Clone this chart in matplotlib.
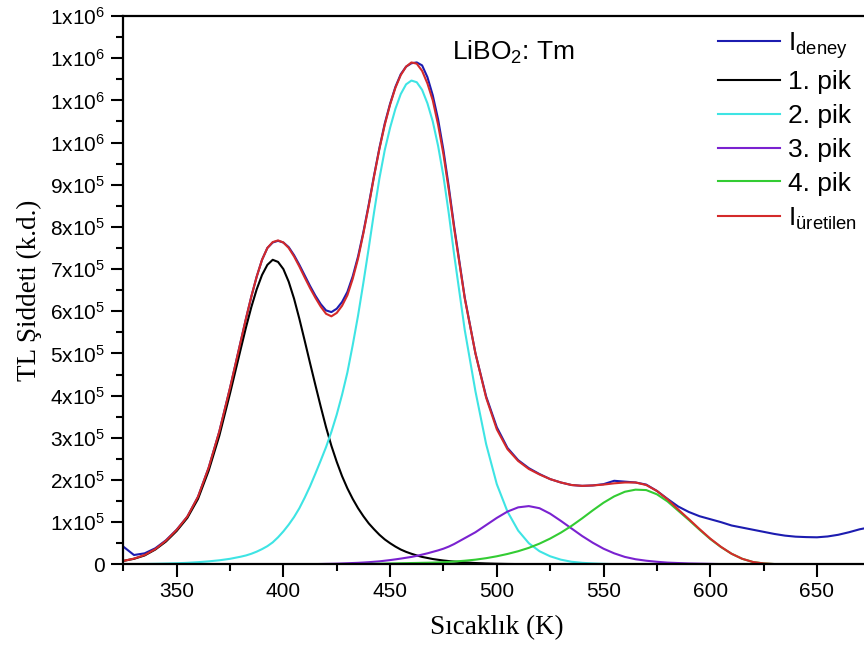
import numpy as np
import matplotlib.pyplot as plt
from matplotlib.ticker import MultipleLocator, FuncFormatter

plt.rcParams['font.family'] = ['Liberation Sans', 'DejaVu Sans']
plt.rcParams['mathtext.fontset'] = 'custom'
plt.rcParams['mathtext.rm'] = 'Liberation Sans'

# temperature (K); finer steps around the two main peaks
sicaklik = np.array([325, 330, 335, 340, 345, 350, 355, 360, 365, 370, 375,
                     380, 382.5, 385, 387.5, 390, 392.5, 395, 397.5, 400, 402.5,
                     405, 407.5, 410, 412.5, 415, 417.5, 420, 422.5, 425, 427.5,
                     430, 432.5, 435, 437.5, 440, 442.5, 445, 447.5, 450, 452.5,
                     455, 457.5, 460, 462.5, 465, 467.5, 470, 472.5, 475, 477.5, 480,
                     485, 490, 495, 500, 505, 510, 515, 520, 525, 530,
                     535, 540, 545, 550, 555, 560, 565, 570, 575, 580,
                     585, 590, 595, 600, 605, 610, 615, 620, 625, 630,
                     635, 640, 645, 650, 655, 660, 665, 670, 675])

i_deney = np.array([42000, 22000, 26000, 38000, 57000, 82000, 113000, 160000, 229000, 315000, 418000,
                    528000, 583000, 635000, 682000, 722000, 750000, 763000, 767000, 763000, 752000,
                    733000, 710000, 685000, 660000, 637000, 617000, 602000, 598000, 606000, 622000,
                    646000, 683000, 730000, 788000, 853000, 922000, 987000, 1045000, 1092000, 1132000,
                    1162000, 1180000, 1188000, 1190000, 1183000, 1155000, 1112000, 1055000, 982000, 895000, 802000,
                    632000, 500000, 398000, 325000, 276000, 247000, 228000, 214000, 202000, 194000,
                    188000, 186000, 187000, 190000, 198000, 196000, 194000, 189000, 174000, 155000,
                    137000, 124000, 114000, 107000, 100000, 92000, 87000, 82000, 77000, 72000,
                    68000, 65500, 64500, 64000, 66000, 70000, 76000, 83000, 88000])

pik_1 = np.array([8000, 13000, 21000, 35000, 54000, 79000, 110000, 155000, 222000, 305000, 405000,
                  510000, 562000, 610000, 652000, 686000, 710000, 722000, 717000, 700000, 670000,
                  630000, 582000, 530000, 477000, 425000, 374000, 325000, 281000, 243000, 209000,
                  180000, 155000, 133000, 114000, 97000, 83000, 70000, 59000, 50000, 42000,
                  35000, 29500, 25000, 21000, 17500, 15000, 12500, 10700, 9000, 7700, 6500,
                  4500, 3000, 2000, 1300, 800, 500, 300] + [0] * 32)

pik_2 = np.array([0, 500, 800, 1200, 1800, 2500, 3500, 5000, 7000, 9500, 13000,
                  18000, 21000, 25000, 30000, 36000, 43000, 52000, 64000, 78000, 94000,
                  112000, 133000, 158000, 185000, 215000, 246000, 278000, 314000, 355000, 402000,
                  455000, 520000, 590000, 668000, 750000, 835000, 915000, 982000, 1035000, 1080000,
                  1115000, 1138000, 1147000, 1143000, 1125000, 1093000, 1050000, 992000, 920000, 832000, 735000,
                  555000, 410000, 285000, 190000, 125000, 80000, 50000, 31000, 19000, 11000,
                  6000, 3500, 2000, 1000, 500] + [0] * 24)

pik_3 = np.array([0] * 25 +
                 [500, 700, 1000, 1200, 1500, 2000,
                  2500, 3000, 3500, 4200, 5000, 6000, 7000, 8500, 10000, 11700,
                  13500, 15500, 17500, 20000, 23000, 26000, 29500, 33000, 37000, 42000, 48000,
                  62000, 76000, 93000, 110000, 125000, 135000, 138000, 133000, 120000, 103000,
                  85000, 67000, 51000, 37000, 26000, 17500, 12000, 8500, 6000, 4000,
                  3000, 2000, 1500, 1000, 500] + [0] * 14)

pik_4 = np.array([0] * 33 +
                 [500, 700, 1000, 1200, 1500, 1700, 2000, 2200,
                  2500, 2700, 3000, 3200, 3500, 3700, 4000, 4500, 5000, 5700, 6500,
                  8500, 11000, 14500, 19000, 24500, 31000, 39000, 49000, 61000, 75000,
                  91000, 109000, 128000, 146000, 161000, 172000, 177000, 176000, 166000, 149000,
                  127000, 105000, 82000, 60000, 41000, 25000, 13000, 5500, 2000, 600] + [0] * 9)

i_uretilen = np.array([8000, 13500, 22000, 36000, 56000, 81500, 113000, 160000, 229000, 315000, 418000,
                       528000, 583000, 635000, 682000, 722000, 750000, 764000, 768000, 763000, 750000,
                       730000, 706000, 680000, 655000, 632000, 611000, 594000, 588000, 596000, 613000,
                       638000, 677000, 725000, 785000, 850000, 920000, 985000, 1042000, 1090000, 1130000,
                       1160000, 1180000, 1190000, 1187000, 1170000, 1140000, 1100000, 1042000, 972000, 888000, 797000,
                       630000, 500000, 395000, 320000, 273000, 245000, 226000, 213000, 202000, 194000,
                       188000, 186000, 187000, 189000, 192000, 194000, 194000, 188000, 174000, 154000,
                       130000, 107000, 83500, 61000, 41500, 25000, 13000, 5500, 2000, 600] + [0] * 9)


def y_format(v, pos):
    if v <= 0:
        return '0'
    e = int(np.floor(np.log10(v) + 1e-9))
    m = v / 10 ** e
    return r'$\mathregular{%dx10^{%d}}$' % (round(m), e)


fig = plt.figure(figsize=(8.64, 6.57), dpi=100)
ax = fig.add_axes([0.1427, 0.1411, 0.8646, 0.8345])

ax.plot(sicaklik, i_deney, color='#1c1cb0', lw=1.5, label=r'I$_\mathregular{deney}$')
ax.plot(sicaklik, pik_1, color='black', lw=1.5, label='1. pik')
ax.plot(sicaklik, pik_2, color='#3ee4e4', lw=1.5, label='2. pik')
ax.plot(sicaklik, pik_3, color='#7a22d0', lw=1.5, label='3. pik')
ax.plot(sicaklik, pik_4, color='#33cc33', lw=1.5, label='4. pik')
ax.plot(sicaklik, i_uretilen, color='#d42a2a', lw=1.5, label=r'I$_\mathregular{\"uretilen}$')

ax.set_xlim(325, 675)
ax.set_ylim(0, 1.3e6)
ax.xaxis.set_major_locator(MultipleLocator(50))
ax.xaxis.set_minor_locator(MultipleLocator(25))
ax.yaxis.set_major_locator(MultipleLocator(1e5))
ax.yaxis.set_minor_locator(MultipleLocator(5e4))
ax.yaxis.set_major_formatter(FuncFormatter(y_format))
ax.tick_params(which='major', direction='out', length=9, width=1.5, labelsize=15, pad=4)
ax.tick_params(which='minor', direction='out', length=5, width=1.5)
ax.tick_params(top=False, right=False, which='both')
for s in ax.spines.values():
    s.set_linewidth(1.6)

ax.set_xlabel('Sıcaklık (K)', family='Liberation Serif', fontsize=19.5, labelpad=10)
ax.set_ylabel('TL Şiddeti (k.d.)', family='Liberation Serif', fontsize=19.5, labelpad=6)

ax.text(0.44, 0.934, r'LiBO$_\mathregular{2}$: Tm', transform=ax.transAxes, fontsize=19, va='center')

ax.legend(loc='upper left', bbox_to_anchor=(0.831, 0.955), bbox_transform=fig.transFigure,
          frameon=False, fontsize=19, handlelength=2.35, handletextpad=0.3, labelspacing=0.37,
          borderaxespad=0, borderpad=0)

fig.savefig('out.png', dpi=100)
